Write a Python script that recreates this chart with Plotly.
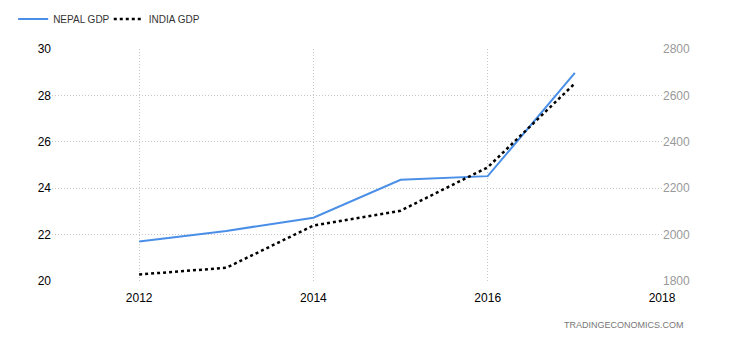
import plotly.graph_objects as go

years = [2012, 2013, 2014, 2015, 2016, 2017]
nepal_gdp = [21.70, 22.16, 22.73, 24.36, 24.52, 28.97]
india_gdp = [1828, 1857, 2039, 2103, 2290, 2652]

left_ticks = [20, 22, 24, 26, 28, 30]
right_ticks = [1800, 2000, 2200, 2400, 2600, 2800]
x_ticks = [2012, 2014, 2016, 2018]

fig = go.Figure()
fig.add_trace(go.Scatter(x=years, y=nepal_gdp, name="NEPAL GDP", mode="lines", legend="legend",
                         line=dict(color="#4a8fe7", width=2)))
fig.add_trace(go.Scatter(x=years, y=india_gdp, name="INDIA GDP", mode="lines", yaxis="y2",
                         legend="legend2",
                         line=dict(color="#000000", width=2.5, dash="dot")))

grid = "#c8c8c8"
leg_common = dict(orientation="h", xref="container", yref="container", y=0.944,
                  xanchor="left", yanchor="middle", bgcolor="rgba(0,0,0,0)",
                  font=dict(size=10, color="#333"), itemwidth=30)
fig.update_layout(
    width=730, height=340,
    margin=dict(l=52, r=68, t=49, b=59, autoexpand=False),
    paper_bgcolor="white", plot_bgcolor="white",
    font=dict(family="Arial, Liberation Sans, sans-serif", size=12, color="#000"),
    showlegend=True,
    legend=dict(x=0.018, **leg_common),
    legend2=dict(x=0.149, **leg_common),
    xaxis=dict(range=[2011, 2018], tickvals=x_ticks, showgrid=True, gridcolor=grid,
               griddash="1px,2px", gridwidth=1, zeroline=False, showline=False,
               ticks="outside", ticklen=6, tickcolor="rgba(0,0,0,0)",
               tickfont=dict(size=12, color="#000")),
    yaxis=dict(range=[20, 30], tickvals=left_ticks, showgrid=True, gridcolor=grid,
               griddash="1px,2px", gridwidth=1, zeroline=False, showline=False, ticks="",
               tickfont=dict(size=12, color="#000")),
    yaxis2=dict(range=[1800, 2800], tickvals=right_ticks, overlaying="y", side="right",
                showgrid=False, zeroline=False, showline=False, ticks="",
                tickfont=dict(size=12, color="#999")),
    annotations=[dict(text="TRADINGECONOMICS.COM", xref="paper", yref="paper", x=1.04, y=-0.19,
                      xanchor="right", yanchor="middle", showarrow=False,
                      font=dict(size=9, color="#777"))],
)
fig.write_html("out.html")
